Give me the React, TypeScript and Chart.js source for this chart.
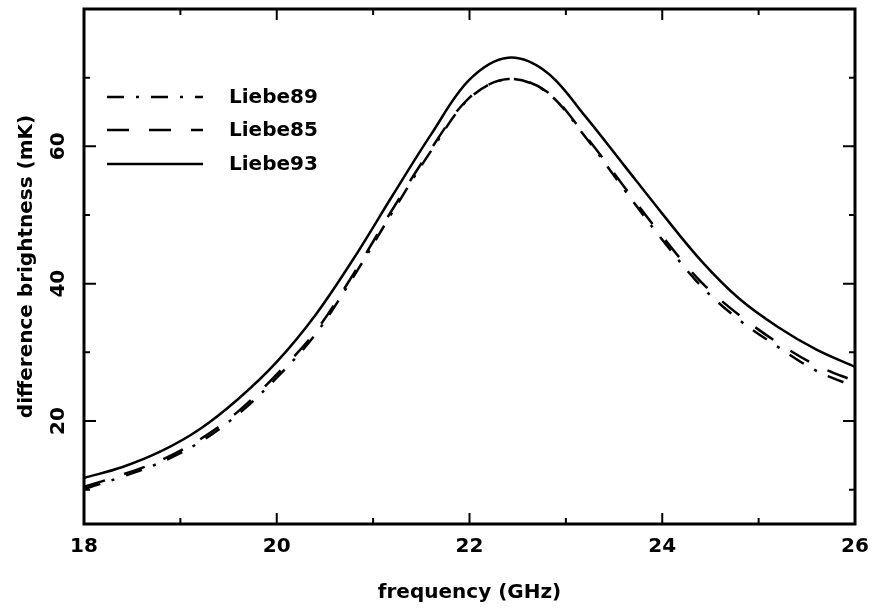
import React, { useEffect, useRef } from "react";
import { Chart, registerables } from "chart.js";

Chart.register(...registerables);

// ---- data ----
const frequency = [18, 18.4, 18.8, 19.2, 19.6, 20, 20.4, 20.8, 21.2, 21.6, 22, 22.4, 22.8, 23.2, 23.6, 24, 24.4, 24.8, 25.2, 25.6, 26];
const liebe89 = [10.1, 11.9, 14.0, 16.9, 21.0, 26.3, 32.6, 41.1, 50.4, 59.3, 67.0, 69.8, 67.9, 61.4, 53.8, 46.4, 39.7, 34.7, 30.8, 27.3, 25.0];
const liebe85 = [10.4, 12.2, 14.3, 17.3, 21.4, 26.8, 33.0, 41.5, 50.8, 59.6, 67.1, 69.8, 68.0, 61.6, 54.2, 46.9, 40.3, 35.4, 31.4, 28.1, 25.8];
const liebe93 = [11.7, 13.3, 15.6, 18.8, 23.2, 28.6, 35.4, 43.7, 52.8, 61.7, 69.7, 72.9, 70.8, 64.4, 57.3, 50.2, 43.4, 37.8, 33.7, 30.4, 27.9];
const seriesNames = ["Liebe89", "Liebe85", "Liebe93"];
const xTickValues = [18, 19, 20, 21, 22, 23, 24, 25, 26];
const yTickValues = [10, 20, 30, 40, 50, 60, 70];
const xRange = [18, 26];
const yRange = [5, 80];
const xTitle = "frequency (GHz)";
const yTitle = "difference brightness (mK)";

const FONT = "DejaVu Sans";
const dashes: number[][] = [[17, 12, 3, 12], [22, 20], []];

const frameAndTicks = {
  id: "frameAndTicks",
  afterDatasetsDraw(chart: any) {
    const { ctx, chartArea: a, scales } = chart;
    const xs = scales.x;
    const ys = scales.y;
    ctx.save();
    ctx.strokeStyle = "#000";
    ctx.lineWidth = 2;
    ctx.lineCap = "butt";
    xs.ticks.forEach((t: any) => {
      const px = xs.getPixelForValue(t.value);
      const len = t.value % 2 === 0 ? 11 : 6;
      ctx.beginPath();
      ctx.moveTo(px, a.bottom);
      ctx.lineTo(px, a.bottom - len);
      ctx.moveTo(px, a.top);
      ctx.lineTo(px, a.top + len);
      ctx.stroke();
    });
    ys.ticks.forEach((t: any) => {
      const py = ys.getPixelForValue(t.value);
      const len = t.value % 20 === 0 ? 12 : 6;
      ctx.beginPath();
      ctx.moveTo(a.left, py);
      ctx.lineTo(a.left + len, py);
      ctx.moveTo(a.right, py);
      ctx.lineTo(a.right - len, py);
      ctx.stroke();
    });
    ctx.lineWidth = 3;
    ctx.strokeRect(a.left, a.top, a.right - a.left, a.bottom - a.top);
    ctx.restore();
  },
};

const legendInside = {
  id: "legendInside",
  afterDatasetsDraw(chart: any) {
    const { ctx, chartArea: a } = chart;
    const rows = [88, 121, 155];
    ctx.save();
    chart.data.datasets.forEach((ds: any, i: number) => {
      const y = a.top + rows[i];
      ctx.beginPath();
      ctx.setLineDash(ds.borderDash || []);
      ctx.lineWidth = ds.borderWidth;
      ctx.strokeStyle = "#000";
      ctx.moveTo(a.left + 23, y);
      ctx.lineTo(a.left + 119, y);
      ctx.stroke();
      ctx.setLineDash([]);
      ctx.fillStyle = "#000";
      ctx.font = `bold 20px "${FONT}"`;
      ctx.textAlign = "left";
      ctx.textBaseline = "middle";
      ctx.fillText(ds.label, a.left + 145, y + 1);
    });
    ctx.restore();
  },
};

export default function App() {
  const ref = useRef<HTMLCanvasElement | null>(null);

  useEffect(() => {
    if (!ref.current) return;
    Chart.defaults.font.family = FONT;
    Chart.defaults.color = "#000";
    const series = [liebe89, liebe85, liebe93];
    const chart = new Chart(ref.current, {
      type: "line",
      data: {
        datasets: series.map((vals, i) => ({
          label: seriesNames[i],
          data: frequency.map((f, j) => ({ x: f, y: vals[j] })),
          borderColor: "#000",
          borderWidth: 2.5,
          borderDash: dashes[i],
          pointRadius: 0,
          fill: false,
          tension: 0.35,
        })),
      },
      options: {
        responsive: false,
        animation: false,
        layout: { padding: { left: 0, right: 21, top: 9, bottom: 0 } },
        plugins: { legend: { display: false }, tooltip: { enabled: false } },
        scales: {
          x: {
            type: "linear",
            min: xRange[0],
            max: xRange[1],
            grid: { display: false, drawTicks: false },
            border: { display: false },
            afterBuildTicks: (s: any) => {
              s.ticks = xTickValues.map((value) => ({ value }));
            },
            afterFit: (s: any) => {
              s.height = 88;
              s.paddingLeft = 0;
              s.paddingRight = 0;
            },
            ticks: {
              padding: 11,
              font: { size: 20, weight: "bold" },
              color: "#000",
              maxRotation: 0,
              autoSkip: false,
              callback: (v: any) => (Number(v) % 2 === 0 ? String(v) : ""),
            },
            title: {
              display: true,
              text: xTitle,
              font: { size: 20, weight: "bold" },
              color: "#000",
              padding: { top: 0, bottom: 7 },
            },
          },
          y: {
            type: "linear",
            min: yRange[0],
            max: yRange[1],
            grid: { display: false, drawTicks: false },
            border: { display: false },
            afterBuildTicks: (s: any) => {
              s.ticks = yTickValues.map((value) => ({ value }));
            },
            afterFit: (s: any) => {
              s.width = 84;
              s.paddingTop = 0;
              s.paddingBottom = 0;
            },
            ticks: {
              padding: 11,
              minRotation: 90,
              maxRotation: 90,
              crossAlign: "center",
              font: { size: 20, weight: "bold" },
              color: "#000",
              autoSkip: false,
              callback: (v: any) => (Number(v) % 20 === 0 ? String(v) : ""),
            },
            title: {
              display: true,
              text: yTitle,
              font: { size: 20, weight: "bold" },
              color: "#000",
              padding: { top: 15, bottom: 0 },
            },
          },
        },
      },
      plugins: [frameAndTicks, legendInside],
    });
    return () => chart.destroy();
  }, []);

  return (
    <div style={{ position: "absolute", left: 0, top: 0, width: 876, height: 612, background: "#fff" }}>
      <canvas ref={ref} width={876} height={612} />
    </div>
  );
}
